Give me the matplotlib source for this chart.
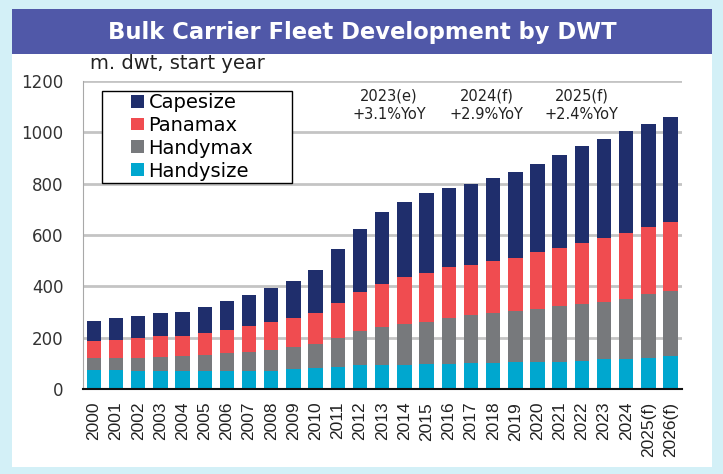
import numpy as np
import matplotlib.pyplot as plt
from matplotlib.patches import Rectangle

# Fleet by segment, m. dwt at start of year
YEARS = ['2000', '2001', '2002', '2003', '2004', '2005', '2006', '2007', '2008',
         '2009', '2010', '2011', '2012', '2013', '2014', '2015', '2016', '2017',
         '2018', '2019', '2020', '2021', '2022', '2023', '2024', '2025(f)', '2026(f)']
HANDYSIZE = [75, 74, 71, 71, 70, 70, 70, 70, 72, 79, 82, 88, 96, 95, 94, 97,
             100, 101, 102, 105, 106, 107, 110, 116, 119, 123, 131]
HANDYMAX = [45, 46, 52, 55, 61, 63, 70, 74, 81, 85, 93, 113, 130, 147, 161, 166,
            177, 186, 194, 198, 207, 215, 223, 224, 234, 246, 251]
PANAMAX = [68, 70, 75, 80, 77, 87, 92, 103, 108, 114, 120, 135, 151, 169, 182, 190,
           197, 196, 202, 208, 219, 229, 235, 247, 255, 261, 269]
CAPESIZE = [77, 86, 88, 89, 93, 101, 112, 120, 131, 144, 168, 209, 247, 280, 293, 310,
            308, 317, 324, 334, 345, 361, 377, 385, 395, 403, 406]

SEGMENTS = ['Handysize', 'Handymax', 'Panamax', 'Capesize']
COLORS = ['#00a7cf', '#77797c', '#f04c50', '#1f2e6c']

ANNOT_X = [13.3, 17.7, 22.0]
ANNOT_TEXT = ['2023(e)\n+3.1%YoY', '2024(f)\n+2.9%YoY', '2025(f)\n+2.4%YoY']

W, H = 723, 474
fig = plt.figure(figsize=(W / 100, H / 100), dpi=100)
fig.patch.set_facecolor('#d3f0f7')


def fx(px):
    return px / W


def fy(py):
    return 1 - py / H


# white panel and title banner (behind the axes)
fig.patches.append(Rectangle((fx(12), fy(467)), fx(700), (467 - 54) / H,
                             transform=fig.transFigure, facecolor='white',
                             edgecolor='none', zorder=-2))
fig.patches.append(Rectangle((fx(12), fy(54)), fx(700), 45 / H,
                             transform=fig.transFigure, facecolor='#5058a8',
                             edgecolor='none', zorder=-2))
fig.text(fx(362), fy(32), 'Bulk Carrier Fleet Development by DWT', color='white',
         fontsize=16.3, fontweight='bold', ha='center', va='center')
fig.text(fx(90), fy(69), 'm. dwt, start year', fontsize=14, color='#222222',
         ha='left', va='baseline')

ax = fig.add_axes([fx(82.7), fy(389.3), fx(681.7 - 82.7), (389.3 - 80.7) / H])
ax.set_facecolor('none')

x = np.arange(len(YEARS))
bottom = np.zeros(len(YEARS))
handles = {}
for name, vals, col in zip(SEGMENTS, [HANDYSIZE, HANDYMAX, PANAMAX, CAPESIZE], COLORS):
    handles[name] = ax.bar(x, vals, bottom=bottom, width=0.65, color=col,
                           label=name, zorder=3)
    bottom += np.array(vals)

ax.set_xlim(-0.5, len(YEARS) - 0.5)
ax.set_ylim(0, 1200)
ax.set_yticks(range(0, 1201, 200))
ax.yaxis.grid(True, color='#c4c4c4', linewidth=2, zorder=0)
ax.set_axisbelow(True)
ax.tick_params(axis='y', length=0, pad=14, labelsize=12, labelcolor='#333333')
ax.set_xticks(x)
ax.set_xticklabels(YEARS, rotation=90, fontsize=12.5, family='Liberation Sans',
                   color='#222222')
ax.tick_params(axis='x', length=0, pad=9)
for s in ['top', 'right']:
    ax.spines[s].set_visible(False)
ax.spines['left'].set_color('#a8a8a8')
ax.spines['bottom'].set_color('#111111')
ax.spines['bottom'].set_linewidth(1.5)
ax.spines['bottom'].set_zorder(4)

for xa, txt in zip(ANNOT_X, ANNOT_TEXT):
    ax.text(xa, 1104, txt, ha='center', va='center', fontsize=10.5,
            color='#222222', linespacing=1.25)

order = ['Capesize', 'Panamax', 'Handymax', 'Handysize']
leg = fig.legend([handles[n] for n in order], order, loc='upper left',
                 bbox_to_anchor=(fx(129), fy(91)), frameon=False, fontsize=14,
                 handlelength=0.65, handleheight=0.65, handletextpad=0.25,
                 labelspacing=0.2, borderpad=0.1, borderaxespad=0)
leg.set_zorder(5)
# legend box drawn above the gridlines
fig.patches.append(Rectangle((fx(102.3), fy(182.7)), fx(291.7 - 102.3), 92 / H,
                             transform=fig.transFigure, facecolor='white',
                             edgecolor='black', linewidth=1, zorder=1))

fig.savefig('out.png', dpi=100, facecolor=fig.get_facecolor())
